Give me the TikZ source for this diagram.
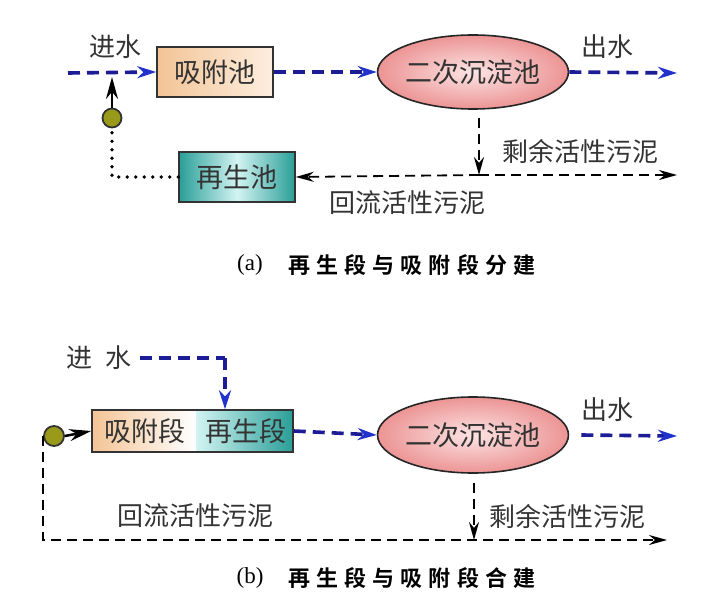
\documentclass[tikz,border=0pt]{standalone}
\usepackage{fontspec}
\setmainfont{Noto Sans CJK SC}
\newfontfamily\capfont[LetterSpace=28]{Noto Sans CJK SC Bold}
\newfontfamily\latinserif{Liberation Serif}
\usetikzlibrary{arrows.meta,shapes.geometric,calc}
\definecolor{flowblue}{HTML}{1C1C96}
\definecolor{tipblue}{HTML}{2233CC}
\definecolor{peach}{HTML}{F3C496}
\definecolor{peachlight}{HTML}{FDEEDF}
\definecolor{tealdark}{HTML}{2A9E98}
\definecolor{teallight}{HTML}{D2F4F2}
\definecolor{pinkin}{HTML}{FCE4E4}
\definecolor{pinkout}{HTML}{EC9494}
\definecolor{olive}{HTML}{9A9A1A}
\definecolor{txt}{HTML}{333333}
\tikzset{
  blueflow/.style={draw=flowblue,line width=3.6pt,dash pattern=on 12pt off 7pt,
    -{Stealth[length=19pt,width=12pt,color=tipblue]}},
  blueline/.style={draw=flowblue,line width=3.6pt,dash pattern=on 12pt off 7pt},
  blackflow/.style={draw=black,line width=1.8pt,dash pattern=on 10pt off 6pt,
    -{Stealth[length=18pt,width=10pt]}},
  dotline/.style={draw=black,line width=3.6pt,dash pattern=on 0pt off 8.5pt,line cap=round},
  stubarrow/.style={draw=black,line width=2.5pt,-{Stealth[length=22pt,width=12pt]}},
  pool/.style={draw=black!80,line width=1.5pt,minimum height=50pt,inner sep=0pt,
    font=\fontsize{27}{27}\selectfont,text=txt},
  tank/.style={ellipse,draw=black!85,line width=1.6pt,inner color=pinkin,outer color=pinkout,
    minimum width=180pt,minimum height=74pt,inner sep=0pt,
    font=\fontsize{27}{27}\selectfont,text=txt},
  lbl/.style={font=\fontsize{26}{26}\selectfont,text=txt,inner sep=0pt},
  pump/.style={circle,draw=black!80,line width=1.8pt,fill=olive,minimum size=19pt,inner sep=0pt},
  captext/.style={font=\capfont\fontsize{22}{22}\selectfont,inner sep=0pt,anchor=west},
  caplatin/.style={font=\latinserif\fontsize{23}{23}\selectfont,inner sep=0pt}
}
\begin{document}
\begin{tikzpicture}[x=1pt,y=-1pt]
\useasboundingbox (0,0) rectangle (720,607);
% ---------------- (a)
\node[pool,minimum width=116pt,left color=peach,right color=peachlight] (ads) at (215,72) {吸附池};
\node[tank] (sed) at (473,72) {二次沉淀池};
\node[pool,minimum width=116pt,left color=tealdark,right color=tealdark,middle color=teallight] (reg) at (237,177) {再生池};
\node[pump] (pa) at (112,118) {};
\coordinate (inA) at (68,73);
\coordinate (jinA) at (112,73);
\coordinate (outA) at (677,73);
\coordinate (sA) at (479,118);
\coordinate (jA) at (479,175);
\coordinate (eA) at (677,175);
\draw[blueflow] (inA) -- (ads.west);
\draw[blueflow] (ads.east) -- (sed.west);
\draw[blueflow] (sed.east) -- (outA);
\draw[blackflow] (sA) -- (jA);
\draw[blackflow] (jA) -- (eA);
\draw[blackflow] (jA) -- (reg.east);
\draw[dotline] (reg.west) -| (pa.south);
\draw[stubarrow] (pa.north) -- ($(jinA)+(0,4)$);
\node[lbl] (tinA) at (115,47) {进水};
\node[lbl] (toutA) at (607,47) {出水};
\node[lbl] (texA) at (580,152) {剩余活性污泥};
\node[lbl] (tretA) at (407,203) {回流活性污泥};
\node[caplatin] (capla) at (250,265) {(a)};
\node[captext] (capa) at (288,265) {再生段与吸附段分建};
% ---------------- (b)
\shade[left color=peach,right color=white] (92,410) rectangle (196,452);
\shade[left color=teallight,right color=tealdark] (196,410) rectangle (293,452);
\node[draw=black!80,line width=1.5pt,minimum width=201pt,minimum height=42pt,inner sep=0pt] (boxB) at (192.5,431) {};
\node[lbl,font=\fontsize{27}{27}\selectfont] (tadsB) at (145,431) {吸附段};
\node[lbl,font=\fontsize{27}{27}\selectfont] (tregB) at (246,431) {再生段};
\node[tank,minimum height=76pt] (sedB) at (473,435) {二次沉淀池};
\node[pump,minimum size=20pt] (pb) at (54,436) {};
\coordinate (inB) at (140,358);
\coordinate (cB) at (225,358);
\coordinate (sB) at (474,483);
\coordinate (jB) at (474,540);
\coordinate (eB) at (667,540);
\coordinate (outB) at (677,436);
\draw[blueline] (inB) -- (cB);
\draw[blueflow] (cB) -- (cB |- boxB.north);
\draw[blueflow] (boxB.east) -- (sedB.west);
\draw[blueflow] ($(sedB.east)+(12,0)$) -- (outB);
\draw[blackflow] (sB) -- (jB);
\draw[blackflow] (pb.west) -- (pb.west |- jB) -- (eB);
\draw[stubarrow] (pb.east) -- (boxB.west);
\node[lbl] (tinB) at (99,358) {进\hspace{14pt}水};
\node[lbl] (toutB) at (607,410) {出水};
\node[lbl] (texB) at (567,516) {剩余活性污泥};
\node[lbl] (tretB) at (195,516) {回流活性污泥};
\node[caplatin] (caplb) at (250,578) {(b)};
\node[captext] (capb) at (288,578) {再生段与吸附段合建};
\end{tikzpicture}
\end{document}
